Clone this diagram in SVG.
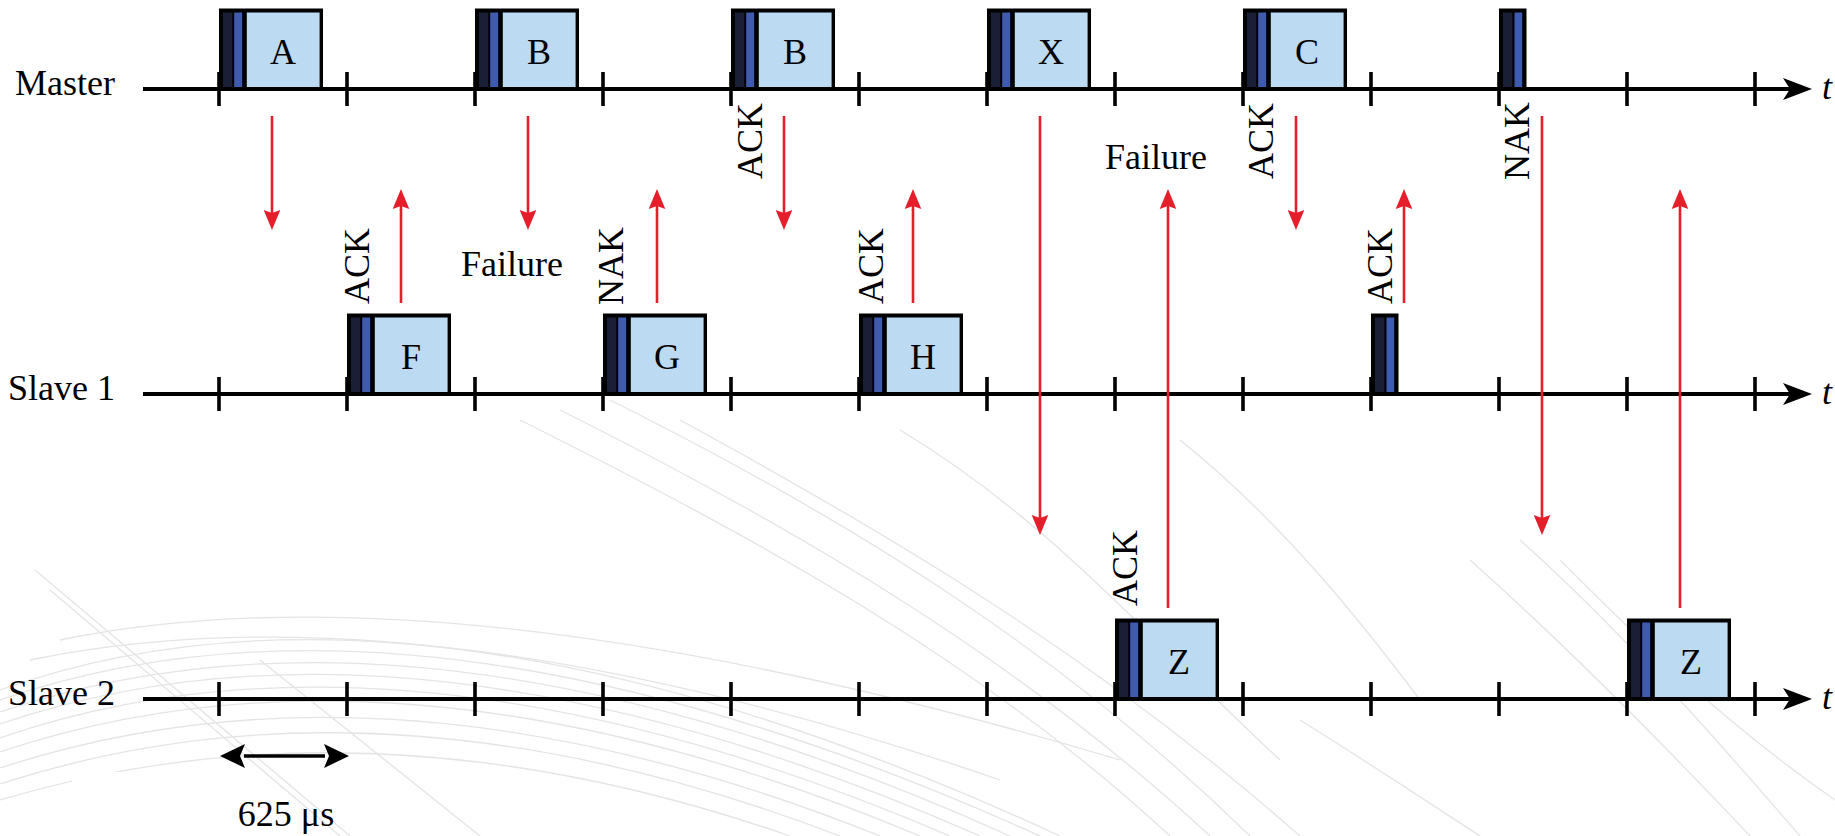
<svg xmlns="http://www.w3.org/2000/svg" width="1835" height="836" viewBox="0 0 1835 836" font-family="'Liberation Serif', 'Times New Roman', serif" font-size="36">
  <style>
    text { font-family: "Liberation Serif", "Times New Roman", serif; font-size: 36px; fill: #000; }
    .lbl { text-anchor: middle; }
    .axis { stroke: #000; stroke-width: 4; fill: none; }
    .tick { stroke: #000; stroke-width: 3.6; }
    .red { stroke: #e41e2b; stroke-width: 2.6; fill: none; }
    .frame { fill: #000; }
    .hdr { fill: #1b1f36; }
    .sync { fill: #3f5bb0; }
    .body { fill: #bcdaf2; }
    .grain { fill: none; stroke: #b4b4b4; stroke-width: 1.3; opacity: 0.35; }
  </style>
  <defs>
    <marker id="axisHead" markerUnits="userSpaceOnUse" viewBox="-8 -12 32 24" markerWidth="32" markerHeight="24" refX="0" refY="0" orient="auto">
      <path d="M22,0 L-7,-11 L0,0 L-7,11 Z" fill="#000"/>
    </marker>
    <marker id="redHead" markerUnits="userSpaceOnUse" viewBox="-4 -9 22 18" markerWidth="22" markerHeight="18" refX="0" refY="0" orient="auto">
      <path d="M17,0 L-3,-8.3 L0,0 L-3,8.3 Z" fill="#e41e2b"/>
    </marker>
    <marker id="spanHead" markerUnits="userSpaceOnUse" viewBox="-2 -13 30 26" markerWidth="30" markerHeight="26" refX="0" refY="0" orient="auto-start-reverse">
      <path d="M24,0 L-1,-12 L4,0 L-1,12 Z" fill="#000"/>
    </marker>
    <!-- a full-width packet; short packets are the header part only -->
    <g id="packet">
      <rect class="frame" x="0" y="0" width="104" height="82.5"/>
      <rect class="hdr" x="4" y="4" width="9.3" height="74.5"/>
      <rect class="sync" x="15.2" y="4" width="8" height="74.5"/>
      <rect class="body" x="27.8" y="4" width="72.8" height="74.5"/>
    </g>
    <g id="stub">
      <rect class="frame" x="0" y="0" width="27.5" height="82.5"/>
      <rect class="hdr" x="4" y="4" width="9.3" height="74.5"/>
      <rect class="sync" x="15.5" y="4" width="7.7" height="74.5"/>
    </g>
  </defs>

  <rect width="1835" height="836" fill="#fff"/>

  <!-- faint paper grain in the lower half -->
  <g id="backdrop">
    <g class="grain">
      <path d="M0,690 Q420,540 1060,836"/>
      <path d="M0,700 Q420,555 1040,836"/>
      <path d="M0,712 Q420,570 1010,836"/>
      <path d="M0,724 Q410,585 980,836"/>
      <path d="M0,738 Q400,600 950,836"/>
      <path d="M0,752 Q400,618 920,836"/>
      <path d="M0,768 Q390,640 880,836"/>
      <path d="M0,784 Q380,660 840,836"/>
      <path d="M0,800 Q370,690 790,836"/>
      <path d="M30,660 Q420,580 1000,780"/>
      <path d="M60,640 Q450,560 1120,760"/>
      <path d="M35,570 L350,836"/>
      <path d="M50,590 L340,836"/>
      <path d="M260,660 L480,836"/>
      <path d="M520,420 C760,540 980,660 1170,836"/>
      <path d="M560,410 C800,530 1020,660 1210,836"/>
      <path d="M610,400 C850,520 1060,650 1250,836"/>
      <path d="M680,420 C900,540 1100,660 1300,836"/>
      <path d="M900,430 C1050,520 1150,640 1280,760"/>
      <path d="M1180,440 C1280,520 1360,620 1420,700"/>
      <path d="M1470,560 C1560,640 1650,730 1750,836"/>
      <path d="M1520,540 C1610,620 1700,720 1800,836"/>
      <path d="M1560,560 C1640,640 1720,720 1835,800"/>
      <path d="M1300,720 C1380,770 1440,810 1480,836"/>
    </g>
    <rect x="72" y="772" width="94" height="64" fill="#fff"/>
  </g>

  <!-- time axes -->
  <g id="axes">
    <line class="axis" x1="143" y1="89" x2="1790" y2="89" marker-end="url(#axisHead)"/>
    <line class="axis" x1="143" y1="394" x2="1790" y2="394" marker-end="url(#axisHead)"/>
    <line class="axis" x1="143" y1="699" x2="1790" y2="699" marker-end="url(#axisHead)"/>
    <g class="tick">
      <path d="M219,72V106M347,72V106M475,72V106M603,72V106M731,72V106M859,72V106M987,72V106M1115,72V106M1243,72V106M1371,72V106M1499,72V106M1627,72V106M1755,72V106"/>
      <path d="M219,377V411M347,377V411M475,377V411M603,377V411M731,377V411M859,377V411M987,377V411M1115,377V411M1243,377V411M1371,377V411M1499,377V411M1627,377V411M1755,377V411"/>
      <path d="M219,682V716M347,682V716M475,682V716M603,682V716M731,682V716M859,682V716M987,682V716M1115,682V716M1243,682V716M1371,682V716M1499,682V716M1627,682V716M1755,682V716"/>
    </g>
    <text x="115" y="95" text-anchor="end">Master</text>
    <text x="115" y="400" text-anchor="end">Slave 1</text>
    <text x="115" y="705" text-anchor="end">Slave 2</text>
    <text x="1822" y="99" font-style="italic">t</text>
    <text x="1822" y="404" font-style="italic">t</text>
    <text x="1822" y="709" font-style="italic">t</text>
  </g>

  <!-- master slots -->
  <g id="m-A"><use href="#packet" x="219" y="8.5"/><text class="lbl" x="283" y="64">A</text></g>
  <g id="m-B1"><use href="#packet" x="475" y="8.5"/><text class="lbl" x="539" y="64">B</text></g>
  <g id="m-B2"><use href="#packet" x="731" y="8.5"/><text class="lbl" x="795" y="64">B</text></g>
  <g id="m-X"><use href="#packet" x="987" y="8.5"/><text class="lbl" x="1051" y="64">X</text></g>
  <g id="m-C"><use href="#packet" x="1243" y="8.5"/><text class="lbl" x="1307" y="64">C</text></g>
  <g id="m-poll"><use href="#stub" x="1499" y="8.5"/></g>

  <!-- slave 1 slots -->
  <g id="s1-F"><use href="#packet" x="347" y="313.5"/><text class="lbl" x="411" y="369">F</text></g>
  <g id="s1-G"><use href="#packet" x="603" y="313.5"/><text class="lbl" x="667" y="369">G</text></g>
  <g id="s1-H"><use href="#packet" x="859" y="313.5"/><text class="lbl" x="923" y="369">H</text></g>
  <g id="s1-null"><use href="#stub" x="1371" y="313.5"/></g>

  <!-- slave 2 slots -->
  <g id="s2-Z1"><use href="#packet" x="1115" y="618.5"/><text class="lbl" x="1179" y="674">Z</text></g>
  <g id="s2-Z2"><use href="#packet" x="1627" y="618.5"/><text class="lbl" x="1691" y="674">Z</text></g>

  <!-- transmissions -->
  <g id="connectors">
    <g class="red" marker-end="url(#redHead)">
      <line x1="272" y1="116" x2="272" y2="213"/>
      <line x1="528" y1="116" x2="528" y2="213"/>
      <line x1="784" y1="116" x2="784" y2="213"/>
      <line x1="1296" y1="116" x2="1296" y2="213"/>
      <line x1="1040" y1="116" x2="1040" y2="518"/>
      <line x1="1542" y1="116" x2="1542" y2="518"/>
      <line x1="401" y1="303" x2="401" y2="206"/>
      <line x1="657" y1="303" x2="657" y2="206"/>
      <line x1="913" y1="303" x2="913" y2="206"/>
      <line x1="1404" y1="303" x2="1404" y2="206"/>
      <line x1="1168" y1="608" x2="1168" y2="206"/>
      <line x1="1680" y1="608" x2="1680" y2="206"/>
    </g>
  </g>

  <!-- acknowledgement flags and outcomes -->
  <g id="notes" font-family="'Liberation Serif', 'Times New Roman', serif">
    <text font-family="Liberation Serif, serif" transform="translate(369,304) rotate(-90)">ACK</text>
    <text font-family="Liberation Serif, serif" transform="translate(623,305) rotate(-90)">NAK</text>
    <text font-family="Liberation Serif, serif" transform="translate(762,179) rotate(-90)">ACK</text>
    <text font-family="Liberation Serif, serif" transform="translate(883,304) rotate(-90)">ACK</text>
    <text font-family="Liberation Serif, serif" transform="translate(1273,179) rotate(-90)">ACK</text>
    <text font-family="Liberation Serif, serif" transform="translate(1392,304) rotate(-90)">ACK</text>
    <text font-family="Liberation Serif, serif" transform="translate(1529,180) rotate(-90)">NAK</text>
    <text font-family="Liberation Serif, serif" transform="translate(1137,606) rotate(-90)">ACK</text>
    <text font-family="Liberation Serif, serif" x="461" y="276">Failure</text>
    <text font-family="Liberation Serif, serif" x="1105" y="169">Failure</text>
  </g>

  <!-- slot length -->
  <g id="scale">
    <line x1="244" y1="756" x2="325" y2="756" stroke="#000" stroke-width="3.5" marker-start="url(#spanHead)" marker-end="url(#spanHead)"/>
    <text font-family="Liberation Serif, serif" x="286" y="826" text-anchor="middle">625 μs</text>
  </g>
</svg>
